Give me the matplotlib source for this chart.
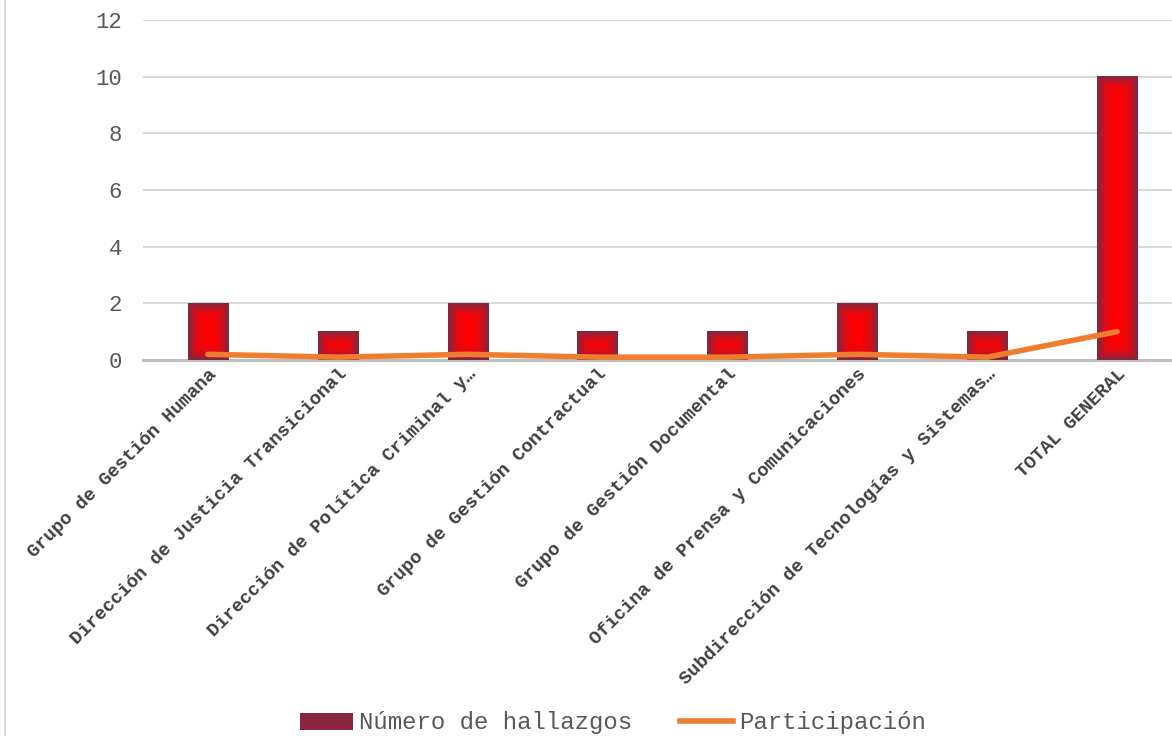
import numpy as np
from matplotlib import pyplot as plt
from matplotlib.colors import LinearSegmentedColormap
from matplotlib.lines import Line2D
from matplotlib.patches import Patch

categorias = [
    "Grupo de Gestión Humana",
    "Dirección de Justicia Transicional",
    "Dirección de Política Criminal y…",
    "Grupo de Gestión Contractual",
    "Grupo de Gestión Documental",
    "Oficina de Prensa y Comunicaciones",
    "Subdirección de Tecnologías y Sistemas…",
    "TOTAL GENERAL",
]
hallazgos = [2, 1, 2, 1, 1, 2, 1, 10]
participacion = [0.2, 0.1, 0.2, 0.1, 0.1, 0.2, 0.1, 1.0]

plt.rcParams['font.family'] = ['Liberation Mono', 'DejaVu Sans Mono']

W, H = 1172, 736
fig = plt.figure(figsize=(W / 100, H / 100), dpi=100)
# el area de trazado sigue un poco mas alla del borde derecho
ax = fig.add_axes([143 / W, 1 - 360 / H, 1039 / W, 340 / H])

x = np.arange(len(categorias))
ancho = 0.31
bars = ax.bar(x, hallazgos, width=ancho, color='none', edgecolor='none', zorder=2)

ax.set_xlim(-0.5, len(categorias) - 0.5)
ax.set_ylim(0, 12)
ax.set_yticks(range(0, 13, 2))
ax.grid(axis='y', color='#D9D9D9', linewidth=1.5, zorder=0)
ax.set_axisbelow(True)
for s in ['top', 'right', 'left']:
    ax.spines[s].set_visible(False)
ax.spines['bottom'].set_color('#BFBFBF')
ax.spines['bottom'].set_linewidth(2.2)
ax.spines['bottom'].set_zorder(1)
ax.tick_params(axis='y', length=0, labelsize=16, labelcolor='#595959', pad=15)
ax.tick_params(axis='x', length=0, pad=4)
ax.set_xticks(x)
ax.set_xticklabels(categorias, rotation=45, ha='right', rotation_mode='anchor',
                   fontsize=13.5, fontweight='bold', color='#404040')

# degradado de las barras (borde oscuro, centro rojo)
cmap = LinearSegmentedColormap.from_list('barra', ['#FF0000', '#E00A14', '#7A2A42'])
fig.canvas.draw()
for b in bars:
    x0, y0 = b.get_x(), b.get_y()
    x1, y1 = x0 + b.get_width(), y0 + b.get_height()
    (px0, py0), (px1, py1) = ax.transData.transform([(x0, y0), (x1, y1)])
    nx, ny = max(int(px1 - px0), 2), max(int(py1 - py0), 2)
    gx, gy = np.meshgrid(np.arange(nx) + 0.5, np.arange(ny) + 0.5)
    d = np.minimum(np.minimum(gx, nx - gx), np.minimum(gy, ny - gy))
    t = 1 - np.clip(d / 17.0, 0, 1)
    ax.imshow(t, cmap=cmap, vmin=0, vmax=1, extent=(x0, x1, y0, y1),
              origin='lower', aspect='auto', interpolation='bilinear',
              clip_path=b, zorder=2)
ax.set_xlim(-0.5, len(categorias) - 0.5)
ax.set_ylim(0, 12)

ax.plot(x, participacion, color='#ED7D31', linewidth=4, solid_capstyle='round',
        zorder=3, clip_on=False)

fig.add_artist(Line2D([5 / W, 5 / W], [0, 1], color='#D9D9D9', linewidth=1.5))

handles = [Patch(facecolor='#8A2540', edgecolor='none'),
           Line2D([0], [0], color='#ED7D31', linewidth=4)]
fig.legend(handles, ['Número de hallazgos', 'Participación'], loc='center',
           bbox_to_anchor=(613 / W, 1 - 723 / H), ncol=2, frameon=False,
           fontsize=17.3, labelcolor='#595959', handlelength=2.2, handletextpad=0.25,
           columnspacing=2.0, borderpad=0.2)

fig.savefig('out.png', dpi=100)
